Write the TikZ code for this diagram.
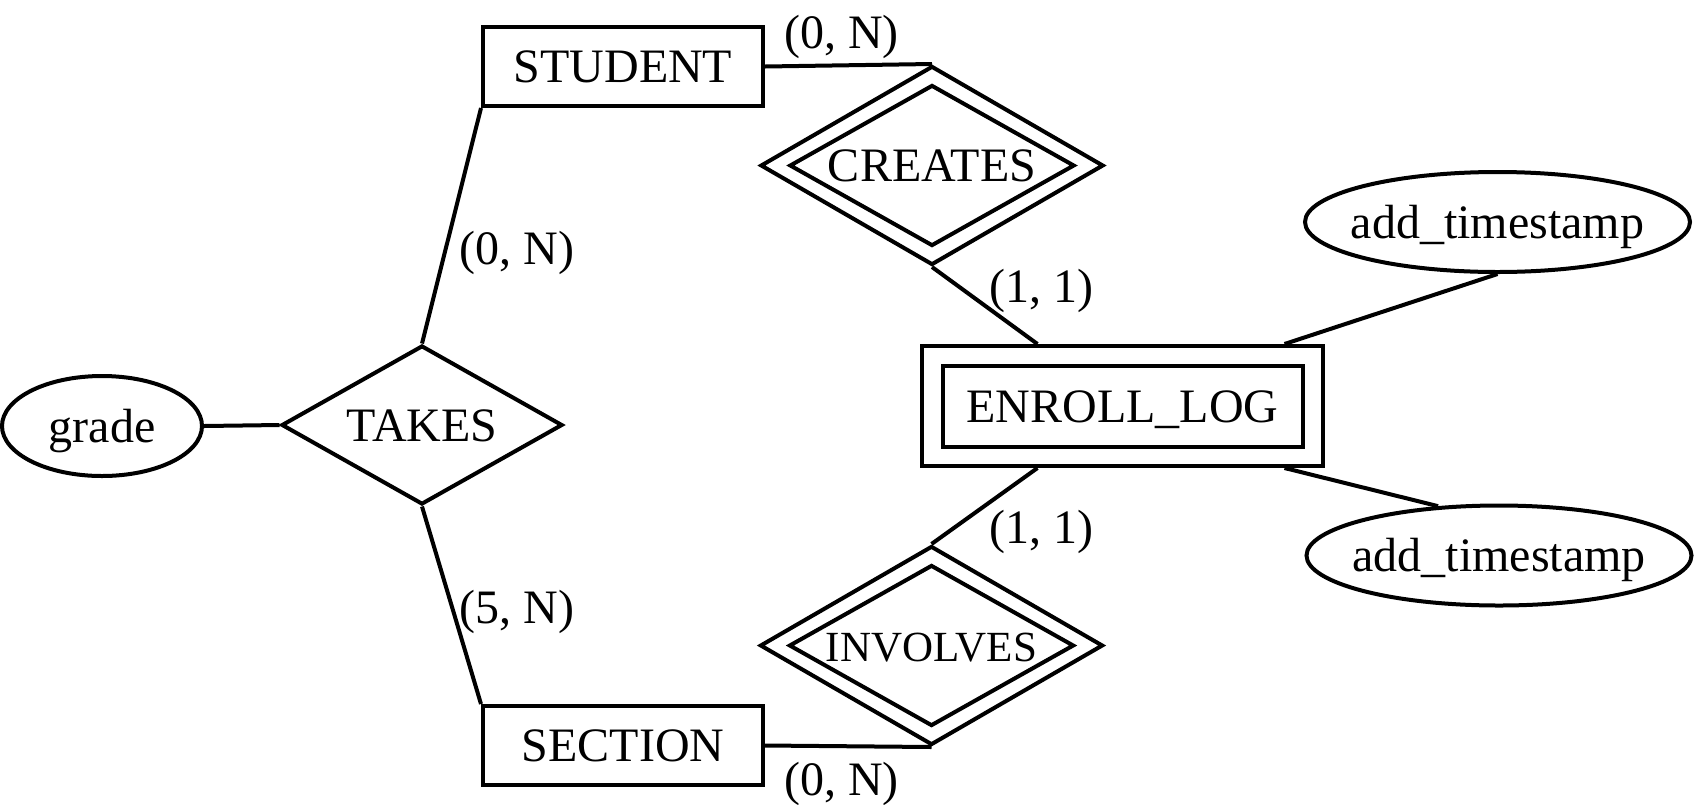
\documentclass[tikz,border=0pt]{standalone}
\usepackage{fontspec}
\setmainfont{Liberation Serif}
\usetikzlibrary{shapes.geometric,calc}
\tikzset{
ARC/.style ={draw=black,line join=miter,line cap=butt,line width=4pt},
LABEL/.style={font=\fontsize{48pt}{57pt}\selectfont,text height=32pt,text depth=0pt,inner sep=0pt},
ENTITY/.style={ARC,LABEL,rectangle,minimum width=280pt,minimum height=79pt},
WEAKOUT/.style={ARC,rectangle,minimum width=401pt,minimum height=120pt},
WEAKIN/.style={ARC,LABEL,rectangle,minimum width=360pt,minimum height=81pt},
REL/.style={ARC,LABEL,diamond,aspect=1.77,minimum width=281pt,minimum height=159pt},
RELOUT/.style={ARC,diamond,aspect=1.72,minimum width=343pt,minimum height=199pt},
RELIN/.style={ARC,LABEL,diamond,aspect=1.77,minimum width=285pt,minimum height=161pt},
ATTR/.style={ARC,LABEL,ellipse,inner xsep=-16pt,minimum width=#1,minimum height=100pt},
ATTR/.default=200pt,
CARD/.style={LABEL},
}
\begin{document}
\begin{tikzpicture}[x=1pt,y=-1pt]
	\useasboundingbox (0,0) rectangle (1696,804);
	% entities
	\node[ENTITY] (student) at (623,66.5) {STUDENT};
	\node[ENTITY] (section) at (623,745.5) {SECTION};
	\node[WEAKOUT] (elog) at (1122.5,406) {};
	\node[WEAKIN] (elogin) at (elog) {ENROLL\_LOG};
	% relationships
	\node[REL] (takes) at (422,425) {TAKES};
	\node[RELOUT] (creates) at (932,165.5) {};
	\node[RELIN] (createsin) at (creates) {CREATES};
	\node[RELOUT] (involves) at (931.5,645.5) {};
	\node[RELIN,font=\fontsize{43pt}{52pt}\selectfont] (involvesin) at (involves) {INVOLVES};
	% attributes
	\node[ATTR] (grade) at (102,426) {grade};
	\node[ATTR=385pt] (tsa) at (1497.5,222) {add\_timestamp};
	\node[ATTR=385pt] (tsb) at (1499,555.5) {add\_timestamp};
	% connectors
	\path[ARC] (student.east) -- (creates.north);
	\path[ARC] (creates.south) -- ($(elog.north west)!0.29!(elog.north east)$);
	\path[ARC] ($(elog.south west)!0.29!(elog.south east)$) -- (involves.north);
	\path[ARC] (section.east) -- (involves.south);
	\path[ARC] (student.south west) -- (takes.north);
	\path[ARC] (takes.south) -- (section.north west);
	\path[ARC] (grade.east) -- (takes.west);
	\path[ARC] ($(elog.north west)!0.9!(elog.north east)$) -- (tsa.south);
	\path[ARC] ($(elog.south west)!0.9!(elog.south east)$) -- (tsb.141);
	% cardinalities
	\node[CARD] (cstc) at (841.5,32) {(0, N)};
	\node[CARD] (cstt) at (517,248) {(0, N)};
	\node[CARD] (ccre) at (1041.6,286.6) {(1, 1)};
	\node[CARD] (cinv) at (1041.6,527) {(1, 1)};
	\node[CARD] (csct) at (517,607) {(5, N)};
	\node[CARD] (csci) at (841.5,779) {(0, N)};
\end{tikzpicture}
\end{document}
